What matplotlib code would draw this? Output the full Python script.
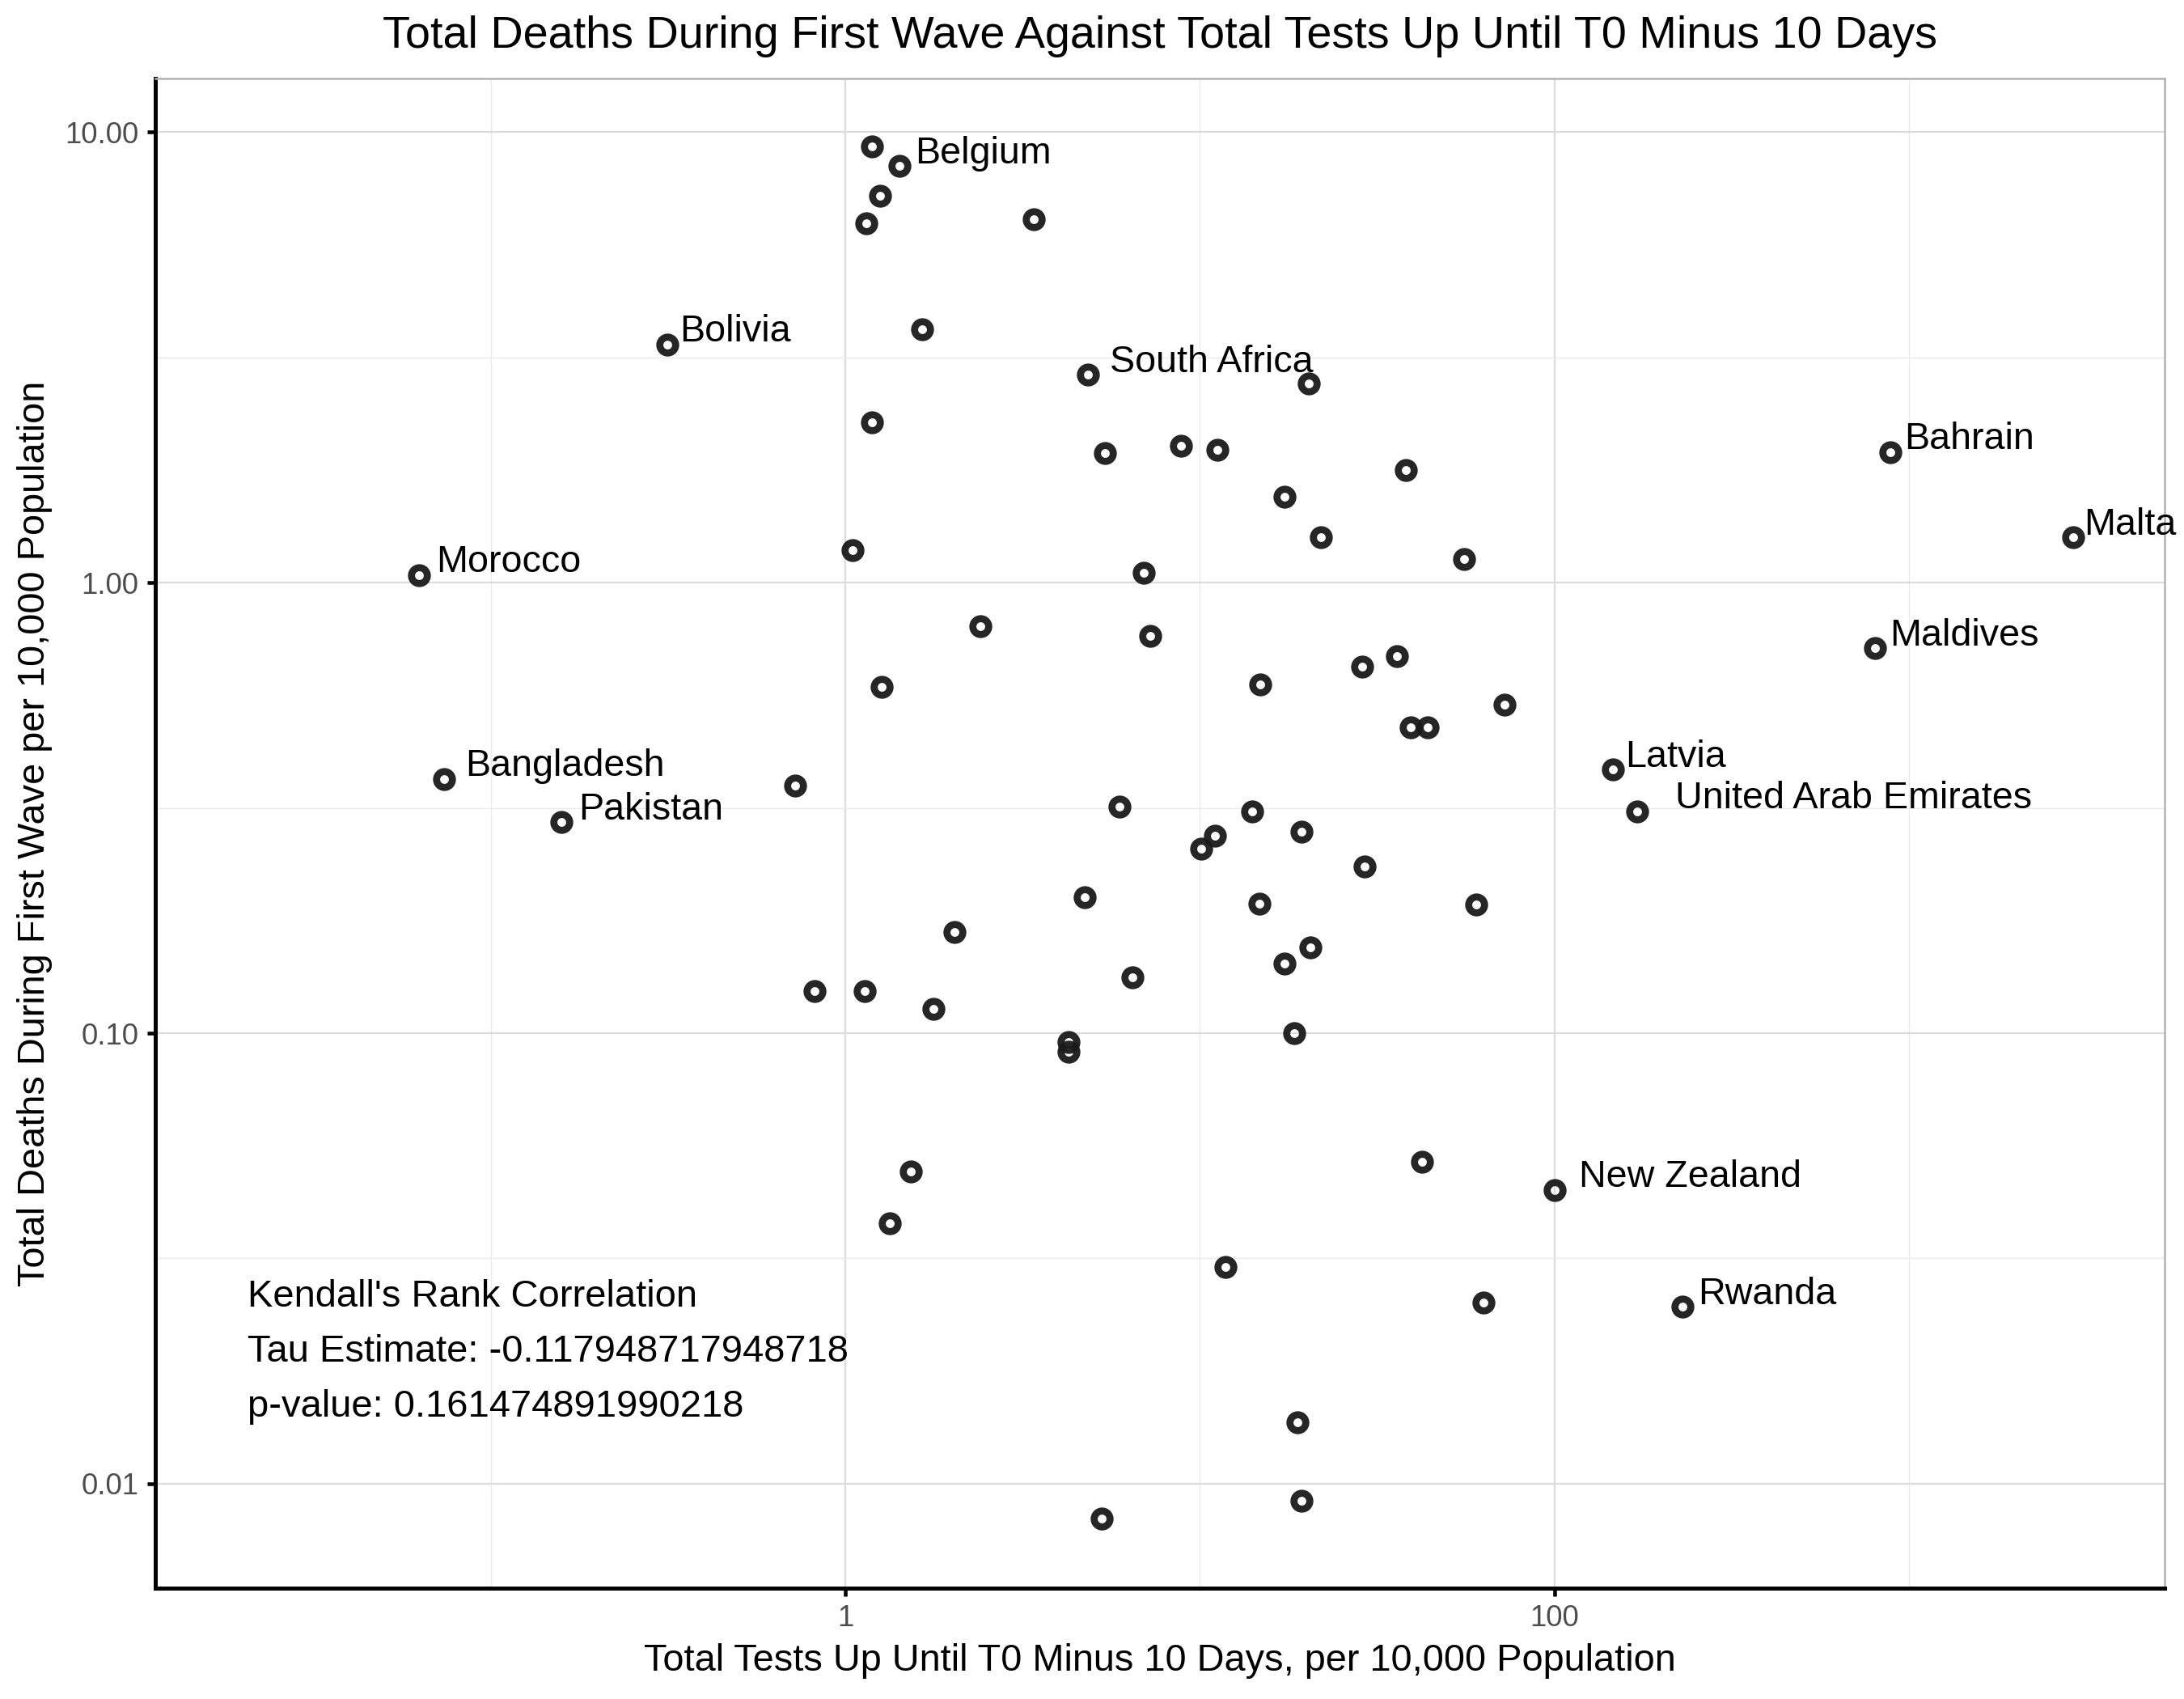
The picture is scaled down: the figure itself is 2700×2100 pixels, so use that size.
import matplotlib
matplotlib.use('Agg')
import matplotlib.pyplot as plt
from matplotlib.ticker import FixedLocator, FixedFormatter, NullFormatter

plt.rcParams['font.family'] = ['Liberation Sans', 'DejaVu Sans']

# tests up to T0-10 days per 10k, deaths in first wave per 10k
tests = [1.188, 1.42, 1.254, 1.145, 3.39, 1.645, 0.314, 4.83, 20.3, 1.188,
         5.38, 8.85, 11.2, 38.0, 885, 17.3, 21.9, 2900, 0.0628, 1.046,
         55.6, 6.93, 2.40, 7.25, 801, 36.0, 28.7, 1.265, 14.8, 72.2,
         39.4, 43.9, 146, 0.0738, 0.722, 5.94, 171, 14.0, 0.158, 19.3,
         11.0, 10.1, 29.2, 4.74, 14.7, 60.3, 2.03, 20.5, 17.3, 6.45,
         0.820, 1.135, 1.77, 4.25, 4.25, 18.4, 42.4, 1.53, 100, 1.336,
         11.8, 63.0, 230, 18.8, 19.3, 5.28]
deaths = [9.28, 8.40, 7.23, 6.27, 6.41, 3.65, 3.38, 2.89, 2.77, 2.27,
          1.94, 2.01, 1.97, 1.78, 1.95, 1.55, 1.26, 1.26, 1.04, 1.18,
          1.13, 1.05, 0.802, 0.763, 0.716, 0.686, 0.652, 0.587, 0.595, 0.535,
          0.477, 0.477, 0.385, 0.367, 0.354, 0.318, 0.311, 0.311, 0.294, 0.280,
          0.274, 0.257, 0.234, 0.200, 0.194, 0.193, 0.168, 0.155, 0.143, 0.133,
          0.124, 0.124, 0.113, 0.0955, 0.0908, 0.100, 0.0518, 0.0493, 0.0449, 0.0379,
          0.0303, 0.0252, 0.0247, 0.01368, 0.00918, 0.00838]

# labelled countries: index into the arrays above, name, label shift (pt)
label_idx = [1, 6, 7, 14, 17, 18, 24, 32, 33, 36, 38, 58, 62]
label_names = ['Belgium', 'Bolivia', 'South Africa', 'Bahrain', 'Malta', 'Morocco',
               'Maldives', 'Latvia', 'Bangladesh', 'United Arab Emirates',
               'Pakistan', 'New Zealand', 'Rwanda']
label_dx = [4.5, 3.7, 6.6, 4.1, 3.3, 5.0, 4.5, 3.6, 6.2, 11.2, 5.0, 7.2, 4.6]

stats_lines = ["Kendall's Rank Correlation",
               'Tau Estimate: -0.117948717948718',
               'p-value: 0.161474891990218']
stats_y = [0.0247, 0.01866, 0.01409]

xticks = [1, 100]
xtick_labels = ['1', '100']
xminor = [0.1, 10, 1000]
yticks = [0.01, 0.1, 1, 10]
ytick_labels = ['0.01', '0.10', '1.00', '10.00']
yminor = [0.0316228, 0.316228, 3.16228]

fig = plt.figure(figsize=(9, 7), dpi=300)
ax = fig.add_axes([0.0711, 0.0652, 0.9200, 0.8886])
ax.set_xscale('log')
ax.set_yscale('log')
ax.set_xlim(10 ** -1.947, 10 ** 3.721)
ax.set_ylim(10 ** -2.232, 10 ** 1.119)

ax.xaxis.set_major_locator(FixedLocator(xticks))
ax.xaxis.set_major_formatter(FixedFormatter(xtick_labels))
ax.xaxis.set_minor_locator(FixedLocator(xminor))
ax.xaxis.set_minor_formatter(NullFormatter())
ax.yaxis.set_major_locator(FixedLocator(yticks))
ax.yaxis.set_major_formatter(FixedFormatter(ytick_labels))
ax.yaxis.set_minor_locator(FixedLocator(yminor))
ax.yaxis.set_minor_formatter(NullFormatter())

ax.grid(which='major', color='#DCDCDC', lw=0.55)
ax.grid(which='minor', color='#EBEBEB', lw=0.35)
ax.set_axisbelow(True)
ax.tick_params(which='major', length=2.4, width=1.1, color='black',
               labelsize=8.8, labelcolor='#4D4D4D', pad=2.5)
ax.tick_params(which='minor', length=0)

for side in ('left', 'bottom'):
    ax.spines[side].set_color('black')
    ax.spines[side].set_linewidth(1.2)
for side in ('top', 'right'):
    ax.spines[side].set_color('#B3B3B3')
    ax.spines[side].set_linewidth(0.6)

ax.plot(tests, deaths, 'o', ms=4.7, mew=2.1, mfc='none', mec='#1a1a1a',
        alpha=0.95, zorder=3)

for i, name, dx in zip(label_idx, label_names, label_dx):
    ax.annotate(name, (tests[i], deaths[i]), xytext=(dx, 0.8),
                textcoords='offset points', ha='left', va='baseline',
                fontsize=11.2, color='black', zorder=4, annotation_clip=False)

for line, yv in zip(stats_lines, stats_y):
    ax.text(0.02056, yv, line, ha='left', va='baseline', fontsize=11.3,
            color='black')

ax.set_xlabel('Total Tests Up Until T0 Minus 10 Days, per 10,000 Population',
              fontsize=11.25)
ax.xaxis.label.set_va('center')
ax.xaxis.set_label_coords(0.5, -0.0482)
ax.set_ylabel('Total Deaths During First Wave per 10,000 Population', fontsize=11.25)
ax.yaxis.label.set_va('center')
ax.yaxis.set_label_coords(-0.060, 0.5)

fig.text(0.0711 + 0.92 / 2, 0.9786,
         'Total Deaths During First Wave Against Total Tests Up Until T0 Minus 10 Days',
         ha='center', va='center', fontsize=13.4)

fig.savefig('out.png', dpi=300)
